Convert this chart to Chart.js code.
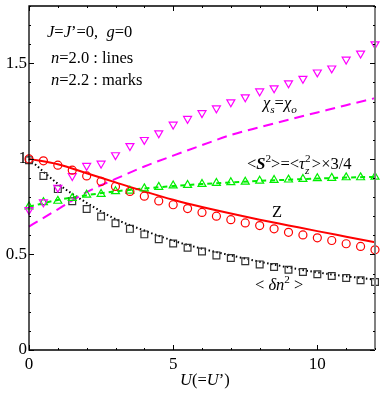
<!DOCTYPE html>
<html>
<head>
<meta charset="utf-8">
<script src="https://cdn.jsdelivr.net/npm/chart.js@4.4.0/dist/chart.umd.min.js"></script>
<style>
html, body { margin: 0; padding: 0; background: #fff; }
</style>
</head>
<body>
<canvas id="chart" width="382" height="398"></canvas>
<script>
// n=2.0 results (lines)
var uLine = [0, 1, 2, 3, 4, 5, 6, 7, 8, 9, 10, 11, 12];
var zLine = [1.0, 0.972, 0.925, 0.877, 0.83, 0.786, 0.748, 0.714, 0.682, 0.652, 0.622, 0.593, 0.564];
var chiLine = [0.646, 0.736, 0.826, 0.895, 0.96, 1.017, 1.072, 1.125, 1.166, 1.205, 1.243, 1.281, 1.318];
var s2Line = [0.75, 0.785, 0.81, 0.83, 0.845, 0.858, 0.868, 0.877, 0.885, 0.891, 0.897, 0.902, 0.906];
var dnLine = [1.0, 0.87, 0.77, 0.685, 0.625, 0.572, 0.53, 0.495, 0.462, 0.432, 0.406, 0.386, 0.368];

// n=2.2 results (marks)
var uMark = [0, 0.5, 1, 1.5, 2, 2.5, 3, 3.5, 4, 4.5, 5, 5.5, 6, 6.5, 7, 7.5, 8, 8.5, 9, 9.5, 10, 10.5, 11, 11.5, 12];
var zMark = [1.0, 0.99, 0.967, 0.941, 0.911, 0.882, 0.856, 0.83, 0.805, 0.78, 0.76, 0.74, 0.72, 0.70, 0.682, 0.665, 0.651, 0.634, 0.616, 0.602, 0.587, 0.573, 0.556, 0.542, 0.524];
var chiMark = [0.733, 0.773, 0.85, 0.911, 0.964, 0.976, 1.02, 1.068, 1.10, 1.135, 1.18, 1.21, 1.24, 1.265, 1.297, 1.323, 1.354, 1.37, 1.396, 1.42, 1.453, 1.474, 1.52, 1.552, 1.60];
var s2Mark = [0.75, 0.773, 0.78, 0.795, 0.812, 0.816, 0.83, 0.833, 0.845, 0.853, 0.86, 0.863, 0.868, 0.873, 0.877, 0.88, 0.885, 0.889, 0.891, 0.894, 0.898, 0.9, 0.903, 0.903, 0.906];
var dnMark = [0.993, 0.911, 0.842, 0.778, 0.738, 0.698, 0.663, 0.634, 0.605, 0.58, 0.557, 0.535, 0.515, 0.495, 0.481, 0.464, 0.448, 0.434, 0.42, 0.408, 0.396, 0.387, 0.377, 0.365, 0.356];

var xTicks = [0, 5, 10];
var yTicks = [0, 0.5, 1, 1.5];
var yTickText = ['0', '0.5', '1', '1.5'];

var FONT = '"Liberation Serif", "Times New Roman", serif';

function pts(xs, ys) {
    return xs.map(function (x, i) { return { x: x, y: ys[i] }; });
}

function lineSet(label, ys, color, dash) {
    return {
        label: label,
        data: pts(uLine, ys),
        borderColor: color,
        borderWidth: 2,
        borderDash: dash,
        pointRadius: 0,
        fill: false,
        cubicInterpolationMode: 'monotone',
        clip: false
    };
}

function markSet(label, ys, color, style, radius, rot) {
    return {
        label: label,
        data: pts(uMark, ys),
        showLine: false,
        borderColor: color,
        backgroundColor: 'rgba(0,0,0,0)',
        pointStyle: style,
        pointRadius: radius,
        pointRotation: rot || 0,
        pointBorderWidth: 1.2,
        pointBorderColor: color,
        pointBackgroundColor: 'rgba(0,0,0,0)',
        clip: false
    };
}

// draws mixed italic / sub / sup text
function rich(ctx, x, y, parts, size) {
    var cx = x;
    parts.forEach(function (p) {
        var fs = p.sub || p.sup ? size * 0.68 : size;
        var dy = p.sub ? size * 0.28 : (p.sup ? -size * 0.45 : 0);
        if (p.stack) {
            ctx.font = 'italic ' + (size * 0.68) + 'px ' + FONT;
            ctx.fillText(p.stack[0], cx, y + size * 0.28);
            ctx.font = (size * 0.68) + 'px ' + FONT;
            ctx.fillText(p.stack[1], cx, y - size * 0.45);
            cx += size * 0.42;
            return;
        }
        ctx.font = (p.i ? 'italic ' : '') + (p.b ? 'bold ' : '') + fs + 'px ' + FONT;
        ctx.fillText(p.t, cx, y + dy);
        cx += ctx.measureText(p.t).width;
    });
}

var frame = {
    id: 'frame',
    afterDraw: function (chart) {
        var ctx = chart.ctx, a = chart.chartArea;
        var xs = chart.scales.x, ys = chart.scales.y;
        ctx.save();
        ctx.strokeStyle = '#000';
        ctx.lineWidth = 1.3;
        ctx.beginPath();
        ctx.moveTo(a.right, a.top); ctx.lineTo(a.left, a.top);
        ctx.lineTo(a.left, a.bottom); ctx.lineTo(a.right, a.bottom);
        ctx.stroke();
        ctx.strokeStyle = '#808080';
        ctx.lineWidth = 2;
        ctx.beginPath();
        ctx.moveTo(a.right, a.top); ctx.lineTo(a.right, a.bottom);
        ctx.stroke();
        ctx.strokeStyle = '#000';
        ctx.lineWidth = 1;
        ctx.beginPath();
        for (var u = 0; u <= 12; u++) {
            var px = Math.round(xs.getPixelForValue(u)) + 0.5;
            var len = u % 5 === 0 ? 5 : 2;
            ctx.moveTo(px, a.bottom); ctx.lineTo(px, a.bottom - len);
            ctx.moveTo(px, a.top); ctx.lineTo(px, a.top + len);
        }
        for (var k = 0; k <= 18; k++) {
            var py = Math.round(ys.getPixelForValue(k / 10)) + 0.5;
            var l2 = k % 5 === 0 ? 5 : 2;
            ctx.moveTo(a.left, py); ctx.lineTo(a.left + l2, py);
            ctx.moveTo(a.right, py); ctx.lineTo(a.right - l2, py);
        }
        ctx.stroke();

        ctx.fillStyle = '#000';
        ctx.textBaseline = 'alphabetic';
        ctx.textAlign = 'left';
        var S = 16.5;
        rich(ctx, 47, 37, [{ t: 'J', i: 1 }, { t: '=' }, { t: 'J', i: 1 }, { t: '\u2019=0,  ' }, { t: 'g', i: 1 }, { t: '=0' }], S);
        rich(ctx, 51, 63, [{ t: 'n', i: 1 }, { t: '=2.0 : lines' }], S);
        rich(ctx, 51, 85, [{ t: 'n', i: 1 }, { t: '=2.2 : marks' }], S);
        rich(ctx, 263, 108, [{ t: '\u03c7', i: 1 }, { t: 's', i: 1, sub: 1 }, { t: '=' }, { t: '\u03c7', i: 1 }, { t: 'o', i: 1, sub: 1 }], S);
        rich(ctx, 247, 169, [{ t: '<' }, { t: 'S', i: 1, b: 1 }, { t: '2', sup: 1 }, { t: '>=<' }, { t: '\u03c4', i: 1 }, { stack: ['z', '2'] }, { t: '>\u00d73/4' }], S);
        rich(ctx, 272, 217, [{ t: 'Z' }], S);
        rich(ctx, 255, 290, [{ t: '< ' }, { t: '\u03b4n', i: 1 }, { t: '2', sup: 1 }, { t: ' >' }], S);
        rich(ctx, 180, 385, [{ t: 'U', i: 1 }, { t: '(=' }, { t: 'U', i: 1 }, { t: '\u2019)' }], S);
        ctx.restore();
    }
};

var ctx = document.getElementById('chart');
var chart = new Chart(ctx, {
    type: 'line',
    data: {
        datasets: [
            markSet('Z n=2.2', zMark, '#ff0000', 'circle', 4),
            markSet('chi n=2.2', chiMark, '#ff00ff', 'triangle', 4.6, 180),
            markSet('S2 n=2.2', s2Mark, '#00ee00', 'triangle', 4.6, 0),
            markSet('dn2 n=2.2', dnMark, '#333333', 'rect', 4.8),
            lineSet('Z n=2.0', zLine, '#ff0000', []),
            lineSet('chi n=2.0', chiLine, '#ff00ff', [10, 6]),
            lineSet('S2 n=2.0', s2Line, '#00ee00', [5, 4]),
            lineSet('dn2 n=2.0', dnLine, '#000000', [1.5, 2.5])
        ]
    },
    options: {
        responsive: false,
        animation: false,
        devicePixelRatio: 1,
        layout: { padding: { top: 4, right: 7, left: 0, bottom: 0 } },
        plugins: { legend: { display: false }, tooltip: { enabled: false } },
        scales: {
            x: {
                type: 'linear',
                min: 0,
                max: 12,
                grid: { display: false, drawTicks: false },
                border: { display: false },
                afterBuildTicks: function (s) { s.ticks = xTicks.map(function (v) { return { value: v }; }); },
                ticks: { color: '#000', font: { family: FONT, size: 17 }, padding: 4, maxRotation: 0 },
                afterFit: function (s) { s.height = 48; s.paddingLeft = 0; s.paddingRight = 0; }
            },
            y: {
                min: 0,
                max: 1.8,
                grid: { display: false, drawTicks: false },
                border: { display: false },
                afterBuildTicks: function (s) { s.ticks = yTicks.map(function (v) { return { value: v }; }); },
                ticks: {
                    color: '#000', font: { family: FONT, size: 17 }, padding: 2,
                    callback: function (v, i) { return yTickText[i]; }
                },
                afterFit: function (s) { s.width = 29; s.paddingTop = 0; s.paddingBottom = 0; }
            }
        }
    },
    plugins: [frame]
});
</script>
</body>
</html>
